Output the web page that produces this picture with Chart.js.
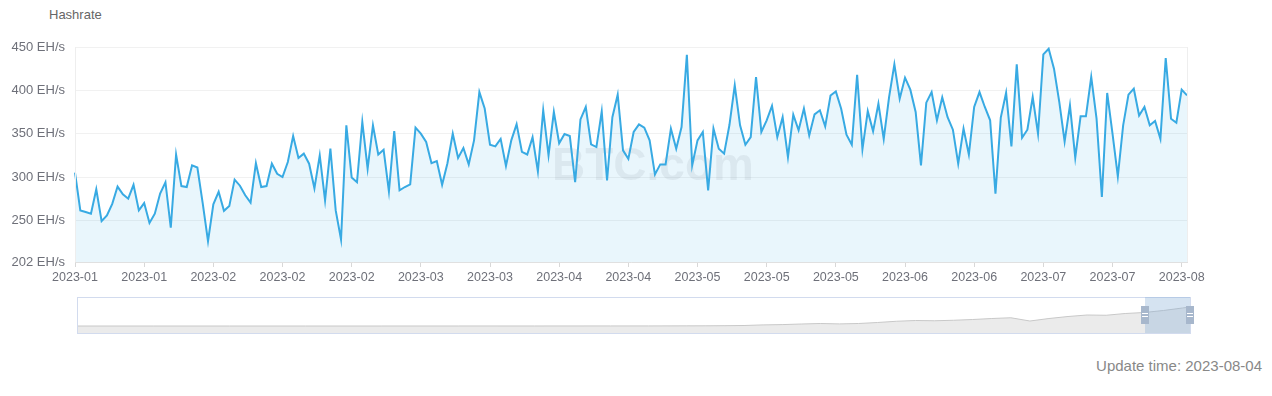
<!DOCTYPE html>
<html><head><meta charset="utf-8">
<script src="https://cdn.jsdelivr.net/npm/chart.js@4/dist/chart.umd.min.js"></script>
<style>
html,body{margin:0;padding:0;background:#fff;width:1272px;height:396px;overflow:hidden;font-family:"Liberation Sans",Arial,sans-serif;}
#main{position:absolute;left:0;top:0;}
#slider{position:absolute;left:0;top:292px;}
#title{position:absolute;left:49px;top:8px;font-size:13px;line-height:13px;color:#666;}
#update{position:absolute;right:10px;top:357px;font-size:15px;line-height:17px;color:#888;}
</style></head><body>
<div id="title">Hashrate</div>
<canvas id="main" width="1272" height="296"></canvas>
<canvas id="slider" width="1272" height="48"></canvas>
<div id="update">Update time: 2023-08-04</div>
<script>
// ---- data ----
const startDate = '2023-01-06';
const hashrate = [
305,261.5,259.6,257.7,285.8,249.2,255.8,269,289,280,275,291,261.5,270,247,257.7,281,294,
241.5,326,289.6,288.5,313.5,311,270,226,268.5,283,261,266.5,297,290,279,270.4,316,
288.5,289.6,315.4,303.8,300,317.3,347.3,322,327,315.4,287,325,273,332.7,261.5,228,359.6,299.5,
294,363.5,309.6,359.6,326,331.5,283.5,353,284.6,288.5,291.5,357,350,340.4,316,318.5,291,316,
350,322,333.5,314.6,342.3,398,379,337.3,335.4,344,312.7,342.3,361,329,326,346,306.5,
376.9,325,375,339,349.6,347.3,294,366.5,380.8,337.7,334.6,375.8,296,369,395,330.8,321,352,
360.8,357,342.3,303,314.6,314.6,355.8,332.7,357.7,441,313.5,342.3,352,284.6,355.8,332.7,327,
360,405.8,359.6,337.3,346,415.4,352,365.4,382,346,369,323,372,354,379,348,372.3,377,
358.5,394,398.8,378.8,348.8,337.3,418,332,376,352.7,384.6,344,392,430,390.4,414.6,400.8,375,
313.5,385.8,398,365.4,392,369,354.6,315.4,355.8,326,380.8,398,380.8,365.4,280.8,368.5,397.3,
335.4,430,345.4,354.6,392.3,350,441.5,448,425,386.5,341,382.7,322.3,370,370,415.4,367.3,277,
397,350,300.8,359.6,395,401.9,371,380.8,359.6,364.6,344,437.3,367.3,362.7,400.8,394.2
];
const yTicks = [202,250,300,350,400,450];
const labelEvery = 13;
// long history shown in the zoom slider (year, EH/s)
const historyYears = [2009,2010,2011,2012,2013,2014,2015,2016,2016.5,2017,2017.25,2017.5,2017.75,2018,2018.25,2018.5,2018.75,2019,2019.25,2019.5,2019.75,2020,2020.25,2020.5,2020.75,2021,2021.25,2021.5,2021.75,2022,2022.25,2022.5,2022.75,2023,2023.25,2023.5,2023.6];
const historyHashrate = [0,0,0,0,0,0.2,0.4,1,1.5,3,4,6,10,22,28,40,50,42,50,70,95,110,105,115,130,150,165,100,150,190,220,215,250,270,310,360,380];
const selStart = 2023.01, selEnd = 2023.6;

// ---- categories ----
const labels = [];
{ const d0 = new Date(startDate + 'T00:00:00Z');
  for (let i = 0; i < hashrate.length; i++) { const d = new Date(d0.getTime() + i*86400000); labels.push(d.toISOString().slice(0,10)); } }

Chart.defaults.font.family = '"Liberation Sans", Arial, sans-serif';
Chart.defaults.font.size = 12;
Chart.defaults.color = '#6e7079';

const watermark = {
  id: 'watermark',
  beforeDatasetsDraw(chart) {
    const {ctx, chartArea: a} = chart;
    ctx.save();
    ctx.font = 'bold 46px "Liberation Sans", Arial, sans-serif';
    ctx.fillStyle = 'rgba(110,110,120,0.10)';
    ctx.textAlign = 'center'; ctx.textBaseline = 'middle';
    ctx.fillText('BTC.com', 653, 167);
    ctx.restore();
  },
  afterDraw(chart) {
    const {ctx, chartArea: a} = chart;
    ctx.save();
    ctx.strokeStyle = '#eeeeee'; ctx.lineWidth = 1;
    ctx.beginPath();
    ctx.moveTo(a.left + 0.5, a.top); ctx.lineTo(a.left + 0.5, a.bottom);
    ctx.moveTo(a.right + 0.5, a.top); ctx.lineTo(a.right + 0.5, a.bottom);
    ctx.stroke();
    ctx.restore();
  }
};

new Chart(document.getElementById('main'), {
  type: 'line',
  data: { labels, datasets: [{
    data: hashrate, borderColor: '#38aae3', borderWidth: 2, pointRadius: 0, tension: 0,
    fill: 'start', backgroundColor: 'rgba(56,170,227,0.11)'
  }]},
  options: {
    responsive: false, animation: false, events: [],
    layout: { padding: { top: 47, right: 85, left: 0, bottom: 0 } },
    plugins: { legend: { display: false }, tooltip: { enabled: false } },
    scales: {
      x: {
        type: 'category', offset: false,
        afterFit(s) { s.height = 34; },
        border: { display: true, color: '#e0e0e0' },
        grid: { drawOnChartArea: false, tickLength: 5,
          color: c => (c.index % labelEvery === 0) ? '#d8d8d8' : 'rgba(0,0,0,0)' },
        ticks: { autoSkip: false, maxRotation: 0, minRotation: 0, padding: 3, color: '#6e7079',
          font: { size: 12.5 },
          callback: (v, i) => (i % labelEvery === 0) ? labels[i].slice(0,7) : '' }
      },
      y: {
        min: 202, max: 450,
        afterFit(s) { s.width = 75; },
        afterBuildTicks(s) { s.ticks = yTicks.map(v => ({ value: v })); },
        border: { display: false },
        grid: { color: '#f1f1f1', drawTicks: false },
        ticks: { padding: 10, color: '#6e7079', font: { size: 13 }, callback: v => v + ' EH/s' }
      }
    }
  },
  plugins: [watermark]
});

// ---- slider ----
const sliderDeco = {
  id: 'sliderDeco',
  afterDraw(chart) {
    const {ctx, chartArea: a, scales} = chart;
    ctx.save();
    ctx.strokeStyle = '#d2dbee'; ctx.lineWidth = 1;
    ctx.strokeRect(a.left + 0.5, a.top + 0.5, a.right - a.left, a.bottom - a.top);
    const x1 = scales.x.getPixelForValue(selStart), x2 = scales.x.getPixelForValue(selEnd);
    ctx.fillStyle = 'rgba(135,175,215,0.35)';
    ctx.fillRect(x1, a.top, x2 - x1, a.bottom - a.top);
    [x1, x2].forEach(x => {
      ctx.fillStyle = '#a7b7cc';
      ctx.fillRect(x - 4, a.top + 9, 8, a.bottom - a.top - 18);
      ctx.strokeStyle = '#fff'; ctx.lineWidth = 1;
      ctx.beginPath();
      ctx.moveTo(x - 3, a.top + 16.5); ctx.lineTo(x + 3, a.top + 16.5);
      ctx.moveTo(x - 3, a.top + 19.5); ctx.lineTo(x + 3, a.top + 19.5);
      ctx.stroke();
    });
    ctx.restore();
  }
};
new Chart(document.getElementById('slider'), {
  type: 'line',
  data: { datasets: [{
    data: historyYears.map((y, i) => ({ x: y, y: historyHashrate[i] })),
    borderColor: '#c8c8c8', borderWidth: 1, pointRadius: 0, tension: 0,
    fill: 'start', backgroundColor: 'rgba(0,0,0,0.08)'
  }]},
  options: {
    responsive: false, animation: false, events: [],
    layout: { padding: { top: 5, right: 82, left: 77, bottom: 7 } },
    plugins: { legend: { display: false }, tooltip: { enabled: false } },
    scales: {
      x: { type: 'linear', min: 2009, max: 2023.6, display: false },
      y: { min: -140, max: 580, display: false }
    }
  },
  plugins: [sliderDeco]
});
</script>
</body></html>
